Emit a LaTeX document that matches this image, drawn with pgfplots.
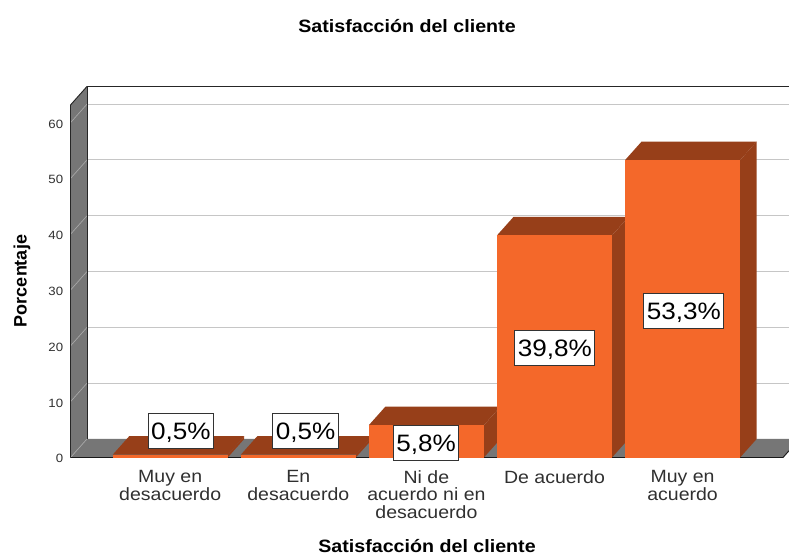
\documentclass[border=0pt]{standalone}
\usepackage{pgfplots}
\pgfplotsset{compat=1.18}
\usepackage{fontspec}
\setmainfont[FakeStretch=1.1]{Liberation Sans}
\newfontfamily\plainsans{Liberation Sans}
\definecolor{barfront}{HTML}{F4682A}
\definecolor{bardark}{HTML}{973F19}
\definecolor{wall}{HTML}{767676}
\definecolor{gridback}{HTML}{C6C6C6}
\definecolor{griddiag}{HTML}{A8A8A8}
\definecolor{txt}{HTML}{303030}
\begin{document}
\begin{tikzpicture}
\useasboundingbox (0,0) rectangle (591.75pt,415.5pt);
\begin{axis}[
  at={(52.875pt,72.375pt)}, anchor=south west,
  scale only axis, width=534.375pt, height=264.375pt,
  xmin=-0.7783, xmax=4.7838, ymin=0, ymax=63.17,
  clip=false,
  axis line style={draw=none},
  major tick length=0pt,
  tick style={draw=none},
  ytick={0,10,20,30,40,50,60},
  xtick={0,1,2,3,4},
  xticklabels={{Muy en\\desacuerdo},{En\\desacuerdo},{Ni de\\acuerdo ni en\\desacuerdo},{De acuerdo},{Muy en\\acuerdo}},
  /pgf/number format/assume math mode=true,
  yticklabel style={font=\fontsize{9}{10}\selectfont, text=txt, xshift=-2pt, yshift=-1pt},
  xticklabel style={font=\fontsize{13.3}{13}\selectfont, text=txt, align=center, anchor=north, yshift=-9.75pt, inner sep=0pt},
  title={\bfseries Satisfacción del cliente},
  title style={at={(axis description cs:0.4723,1.2241)}, anchor=center, yshift=-6pt, font=\fontsize{13.4}{15}\selectfont},
  xlabel={\bfseries Satisfacción del cliente},
  xlabel style={at={(axis description cs:0.5004,-0.2511)}, anchor=center, inner sep=0pt, font=\fontsize{13.4}{15}\selectfont},
  ylabel={\plainsans\bfseries Porcentaje},
  ylabel style={at={(axis description cs:-0.0680,0.5007)}, anchor=center, font=\fontsize{13.5}{15}\selectfont},
]
% walls and floor
\addplot[fill=white,draw=none] coordinates {(-0.6495,3.32)(4.8306,3.32)(4.8306,66.49)(-0.6495,66.49)} -- cycle;
\addplot[fill=wall,draw=none] coordinates {(-0.7783,0)(-0.6495,3.32)(-0.6495,66.49)(-0.7783,63.17)} -- cycle;
\addplot[fill=wall,draw=none] coordinates {(-0.7783,0)(-0.6495,3.32)(4.8306,3.32)(4.8306,1.21)(4.7838,0)} -- cycle;
% gridlines on the back wall
\addplot[gridback,line width=0.75pt] coordinates {(-0.6495,13.32)(4.8306,13.32)};
\addplot[gridback,line width=0.75pt] coordinates {(-0.6495,23.32)(4.8306,23.32)};
\addplot[gridback,line width=0.75pt] coordinates {(-0.6495,33.32)(4.8306,33.32)};
\addplot[gridback,line width=0.75pt] coordinates {(-0.6495,43.32)(4.8306,43.32)};
\addplot[gridback,line width=0.75pt] coordinates {(-0.6495,53.32)(4.8306,53.32)};
\addplot[gridback,line width=0.75pt] coordinates {(-0.6495,63.32)(4.8306,63.32)};
% gridlines on the side wall
\addplot[griddiag,line width=0.5pt] coordinates {(-0.7783,0)(-0.6495,3.32)};
\addplot[griddiag,line width=0.5pt] coordinates {(-0.7783,10)(-0.6495,13.32)};
\addplot[griddiag,line width=0.5pt] coordinates {(-0.7783,20)(-0.6495,23.32)};
\addplot[griddiag,line width=0.5pt] coordinates {(-0.7783,30)(-0.6495,33.32)};
\addplot[griddiag,line width=0.5pt] coordinates {(-0.7783,40)(-0.6495,43.32)};
\addplot[griddiag,line width=0.5pt] coordinates {(-0.7783,50)(-0.6495,53.32)};
\addplot[griddiag,line width=0.5pt] coordinates {(-0.7783,60)(-0.6495,63.32)};
% outlines
\addplot[black!85,line width=0.7pt] coordinates {(-0.7783,0)(-0.7783,63.17)(-0.6495,66.49)(4.8306,66.49)};
\addplot[black!85,line width=0.7pt] coordinates {(-0.6495,66.49)(-0.6495,3.32)};
\addplot[black!90,line width=0.7pt] coordinates {(-0.7783,0)(4.7838,0)(4.8306,1.21)};
% bar 1
\addplot[fill=bardark,draw=none] coordinates {(0.449,0)(0.578,3.32)(0.578,3.82)(0.449,0.5)} -- cycle;
\addplot[fill=bardark,draw=none] coordinates {(-0.449,0.5)(0.449,0.5)(0.578,3.82)(-0.32,3.82)} -- cycle;
\addplot[ybar,bar width=86.25pt,fill=barfront,draw=none] coordinates {(0,0.5)};
% bar 2
\addplot[fill=bardark,draw=none] coordinates {(1.449,0)(1.578,3.32)(1.578,3.82)(1.449,0.5)} -- cycle;
\addplot[fill=bardark,draw=none] coordinates {(0.551,0.5)(1.449,0.5)(1.578,3.82)(0.68,3.82)} -- cycle;
\addplot[ybar,bar width=86.25pt,fill=barfront,draw=none] coordinates {(1,0.5)};
% bar 3
\addplot[fill=bardark,draw=none] coordinates {(2.449,0)(2.578,3.32)(2.578,9.12)(2.449,5.8)} -- cycle;
\addplot[fill=bardark,draw=none] coordinates {(1.551,5.8)(2.449,5.8)(2.578,9.12)(1.68,9.12)} -- cycle;
\addplot[ybar,bar width=86.25pt,fill=barfront,draw=none] coordinates {(2,5.8)};
% bar 4
\addplot[fill=bardark,draw=none] coordinates {(3.449,0)(3.578,3.32)(3.578,43.12)(3.449,39.8)} -- cycle;
\addplot[fill=bardark,draw=none] coordinates {(2.551,39.8)(3.449,39.8)(3.578,43.12)(2.68,43.12)} -- cycle;
\addplot[ybar,bar width=86.25pt,fill=barfront,draw=none] coordinates {(3,39.8)};
% bar 5
\addplot[fill=bardark,draw=none] coordinates {(4.449,0)(4.578,3.32)(4.578,56.62)(4.449,53.3)} -- cycle;
\addplot[fill=bardark,draw=none] coordinates {(3.551,53.3)(4.449,53.3)(4.578,56.62)(3.68,56.62)} -- cycle;
\addplot[ybar,bar width=86.25pt,fill=barfront,draw=none] coordinates {(4,53.3)};
% value labels
\tikzset{vlab/.style={draw=black!80,line width=0.6pt,fill=white,text=black,font=\fontsize{17.8}{20}\selectfont,minimum height=26.25pt,inner xsep=2.25pt,inner ysep=0pt,text height=12.8pt,text depth=0pt}}
\node[vlab] at (axis cs:0.084,4.84) {0,5\%};
\node[vlab] at (axis cs:1.057,4.84) {0,5\%};
\node[vlab] at (axis cs:1.997,2.69) {5,8\%};
\node[vlab] at (axis cs:3.003,19.7) {39,8\%};
\node[vlab] at (axis cs:4.01,26.25) {53,3\%};
\end{axis}
\end{tikzpicture}
\end{document}
